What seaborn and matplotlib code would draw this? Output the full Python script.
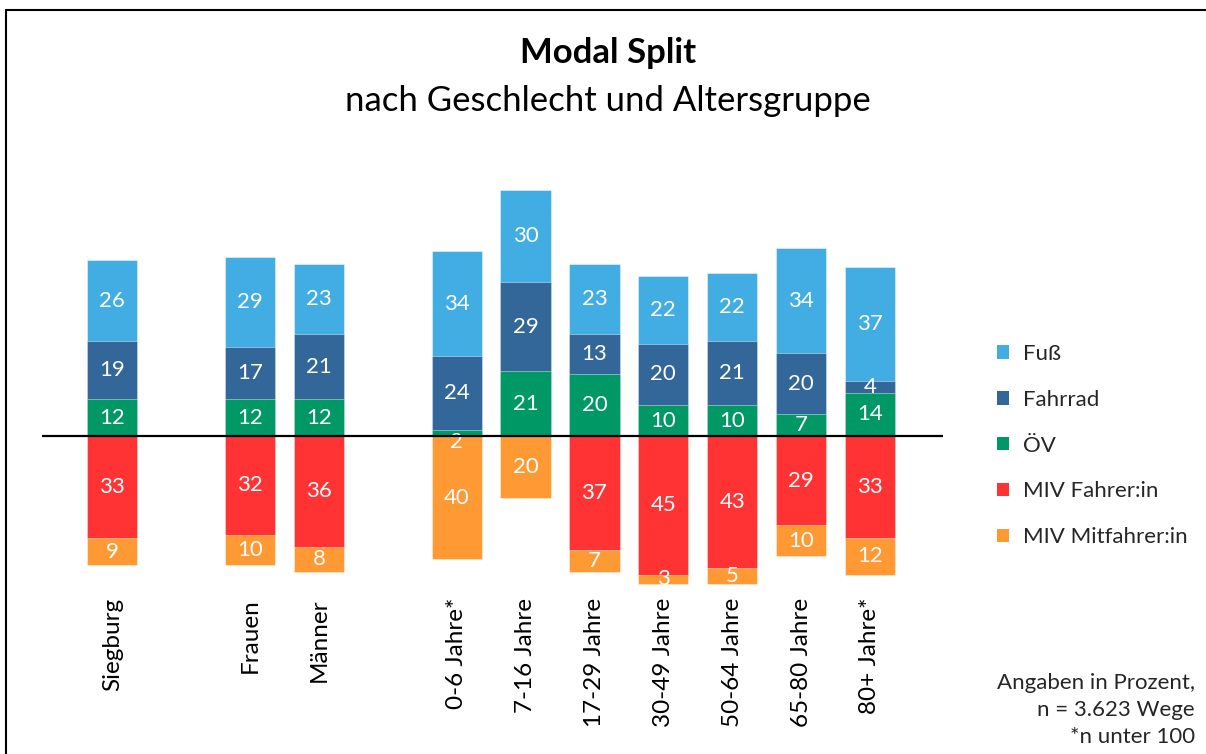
import matplotlib
matplotlib.use("Agg")
import matplotlib.pyplot as plt
import seaborn as sns
import numpy as np
import pandas as pd
from matplotlib.patches import Patch
from matplotlib.lines import Line2D

categories = ["Siegburg", "Frauen", "Männer", "0-6 Jahre*", "7-16 Jahre", "17-29 Jahre",
              "30-49 Jahre", "50-64 Jahre", "65-80 Jahre", "80+ Jahre*"]
slots = [0, 2, 3, 5, 6, 7, 8, 9, 10, 11]

fuss        = [26, 29, 23, 34, 30, 23, 22, 22, 34, 37]
fahrrad     = [19, 17, 21, 24, 29, 13, 20, 21, 20, 4]
oev         = [12, 12, 12, 2, 21, 20, 10, 10, 7, 14]
miv_fahrer  = [33, 32, 36, 0, 0, 37, 45, 43, 29, 33]
miv_mitf    = [9, 10, 8, 40, 20, 7, 3, 5, 10, 12]

series_names = ["Fuß", "Fahrrad", "ÖV", "MIV Fahrer:in", "MIV Mitfahrer:in"]
colors = ["#41ADE3", "#336699", "#009966", "#FF3333", "#FF9933"]

sns.set_theme(style="white")
plt.rcParams['font.family'] = ['Lato', 'DejaVu Sans']

fig = plt.figure(figsize=(12.06, 7.54), dpi=100)
ax = fig.add_axes([42/1206, 1-590/754, 901/1206, (590-173)/754])

pos = np.array(slots, dtype=float)
f = np.array(fuss); fr = np.array(fahrrad); o = np.array(oev)
mf = np.array(miv_fahrer); mm = np.array(miv_mitf)

W = 0.73
# stacked via overlay of cumulative bars
layers = [
    (f + fr + o, colors[0]),
    (fr + o, colors[1]),
    (o, colors[2]),
    (-(mf + mm), colors[4]),
    (-mf, colors[3]),
]
for vals, col in layers:
    df = pd.DataFrame({"x": pos, "y": vals})
    sns.barplot(data=df, x="x", y="y", native_scale=True, width=W, color=col,
                saturation=1, errorbar=None, ax=ax, linewidth=0.6, edgecolor="#ffffff80")

# labels
def lab(xs, centers, vals):
    for x, c, v in zip(xs, centers, vals):
        if v > 0:
            ax.text(x, c, str(v), ha="center", va="center", color="white", fontsize=16)

lab(pos, o + fr + f / 2, f)
lab(pos, o + fr / 2, fr)
oc = np.where(o < 4, -1.8, o / 2)
lab(pos, oc, o)
lab(pos, -mf / 2, mf)
lab(pos, -mf - mm / 2, mm)

ax.axhline(0, color="black", linewidth=1.6, zorder=5)
ax.set_xlim(-1.02, 12.06)
ax.set_ylim(-50, 85.4)
ax.set_xticks([])
ax.set_yticks([])
ax.set_xlabel("")
ax.set_ylabel("")
for s in ax.spines.values():
    s.set_visible(False)

# category labels
for x, c in zip(pos, categories):
    xf = (42 + (x + 1.02) / (12.06 + 1.02) * 901) / 1206
    fig.text(xf, 1 - 598/754, c, rotation=90, ha="center", va="top", fontsize=17.5, color="black")

fig.text(0.504, 1 - 53/754, "Modal Split", ha="center", va="center", fontsize=25,
         fontweight="bold", color="black")
fig.text(0.504, 1 - 101/754, "nach Geschlecht und Altersgruppe", ha="center", va="center",
         fontsize=25, color="black")

handles = [Patch(facecolor=c, edgecolor="none", label=n) for c, n in zip(colors, series_names)]
fig.legend(handles=handles, loc="upper left", bbox_to_anchor=(997/1206, 1 - 344/754),
           frameon=False, fontsize=16, handlelength=0.55, handleheight=0.55,
           labelspacing=1.16, handletextpad=0.6, borderaxespad=0, borderpad=0)

fig.text(1195/1206, 1 - 683/754, "Angaben in Prozent,", ha="right", va="center", fontsize=16)
fig.text(1195/1206, 1 - 710/754, "n = 3.623 Wege", ha="right", va="center", fontsize=16)
fig.text(1195/1206, 1 - 737/754, "*n unter 100", ha="right", va="center", fontsize=16)

# outer frame (top and left visible)
fig.add_artist(Line2D([6/1206, 1.0], [1 - 10/754, 1 - 10/754], color="black", linewidth=1.5,
                      transform=fig.transFigure))
fig.add_artist(Line2D([6/1206, 6/1206], [0, 1 - 10/754], color="black", linewidth=1.5,
                      transform=fig.transFigure))

fig.savefig("out.png", dpi=100, facecolor="white")
